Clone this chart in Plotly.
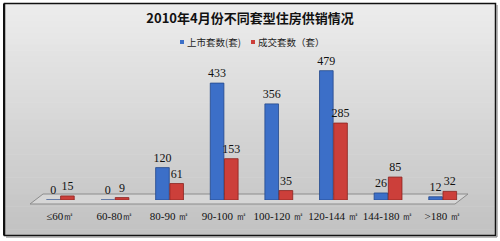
import plotly.graph_objects as go

categories = ["≤60㎡", "60-80㎡", "80-90 ㎡", "90-100 ㎡", "100-120 ㎡", "120-144 ㎡", "144-180 ㎡", ">180 ㎡"]
listed = [0, 0, 120, 433, 356, 479, 26, 12]
sold = [15, 9, 61, 153, 35, 285, 85, 32]
series_names = ["上市套数(套)", "成交套数（套）"]
series_colors = ["#3c6fc8", "#cc3f3a"]
title_text = "2010年4月份不同套型住房供销情况"

W, H = 500, 241
ML, MR, MT, MB = 33, 30, 65, 41
PW, PH = W - ML - MR, H - MT - MB

def px(x):
    return (x - ML) / PW

def py(y):
    return (H - MB - y) / PH

font_cjk = "Noto Sans CJK SC, sans-serif"
font_num = "Liberation Serif, DejaVu Serif, serif"

fig = go.Figure()
fig.add_trace(go.Bar(
    x=categories, y=listed, name=series_names[0],
    marker=dict(color=series_colors[0], line=dict(color="#23478a", width=0.8)),
    text=[str(v) for v in listed], textposition="outside", constraintext="none",
    textfont=dict(family=font_num, size=12, color="#111"),
    cliponaxis=False, showlegend=False,
))
fig.add_trace(go.Bar(
    x=categories, y=sold, name=series_names[1],
    marker=dict(color=series_colors[1], line=dict(color="#8a2320", width=0.8)),
    text=[str(v) for v in sold], textposition="outside", constraintext="none",
    textfont=dict(family=font_num, size=12, color="#111"),
    cliponaxis=False, showlegend=False,
))

shapes = []
# gradient background inside frame
top, bot = 4, 235
n = 40
c0, c1 = 236, 194
for i in range(n):
    y0 = top + (bot - top) * i / n
    y1 = top + (bot - top) * (i + 1) / n + 0.6
    c = int(round(c0 + (c1 - c0) * i / (n - 1)))
    shapes.append(dict(type="rect", xref="paper", yref="paper",
                       x0=px(5), x1=px(495), y0=py(y0), y1=py(min(y1, bot)),
                       fillcolor=f"rgb({c},{c},{c})", line=dict(width=0), layer="below"))
# frame
shapes.append(dict(type="rect", xref="paper", yref="paper",
                   x0=px(4.5), x1=px(495.5), y0=py(3.5), y1=py(235.5),
                   line=dict(color="#111", width=1.5), layer="below"))
shapes.append(dict(type="line", xref="paper", yref="paper",
                   x0=px(4), x1=px(4), y0=py(3.5), y1=py(235.5),
                   line=dict(color="#111", width=2), layer="below"))
# shadow lines
shapes.append(dict(type="line", xref="paper", yref="paper",
                   x0=px(497), x1=px(497), y0=py(5), y1=py(237),
                   line=dict(color="#777", width=1), layer="below"))
shapes.append(dict(type="line", xref="paper", yref="paper",
                   x0=px(6), x1=px(497), y0=py(237), y1=py(237),
                   line=dict(color="#777", width=1), layer="below"))
# floor parallelogram
path = "M {} {} L {} {} L {} {} L {} {} Z".format(
    px(30), py(204), px(43), py(194), px(468), py(194), px(455), py(204))
shapes.append(dict(type="path", xref="paper", yref="paper", path=path,
                   fillcolor="rgb(214,214,214)", line=dict(color="#8c8c8c", width=1), layer="below"))

# legend (manual)
annotations = []
legend_pos = [(180, 185), (251, 256)]
for (sx, tx), name, col in zip(legend_pos, series_names, series_colors):
    shapes.append(dict(type="rect", xref="paper", yref="paper",
                       x0=px(sx), x1=px(sx + 4), y0=py(40), y1=py(44),
                       fillcolor=col, line=dict(width=0)))
    annotations.append(dict(text=name, xref="paper", yref="paper", x=px(tx), y=py(42.5),
                            xanchor="left", yanchor="middle", showarrow=False,
                            font=dict(family=font_cjk, size=9.5, color="#222")))

fig.update_layout(
    width=W, height=H,
    margin=dict(l=ML, r=MR, t=MT, b=MB, pad=0),
    paper_bgcolor="white", plot_bgcolor="rgba(0,0,0,0)",
    title=dict(text="<b>" + title_text + "</b>", x=0.5, xanchor="center", y=1 - 18 / H, yanchor="middle",
               font=dict(family=font_cjk, size=13, color="#111")),
    barmode="group", bargap=0.48, bargroupgap=0.04,
    xaxis=dict(showgrid=False, showline=False, zeroline=False, ticks="",
               tickfont=dict(family=font_num, size=11, color="#111"), ticklabelstandoff=8),
    yaxis=dict(range=[0, 500], visible=False),
    shapes=shapes, annotations=annotations,
    showlegend=False,
)

fig.write_html("out.html")
